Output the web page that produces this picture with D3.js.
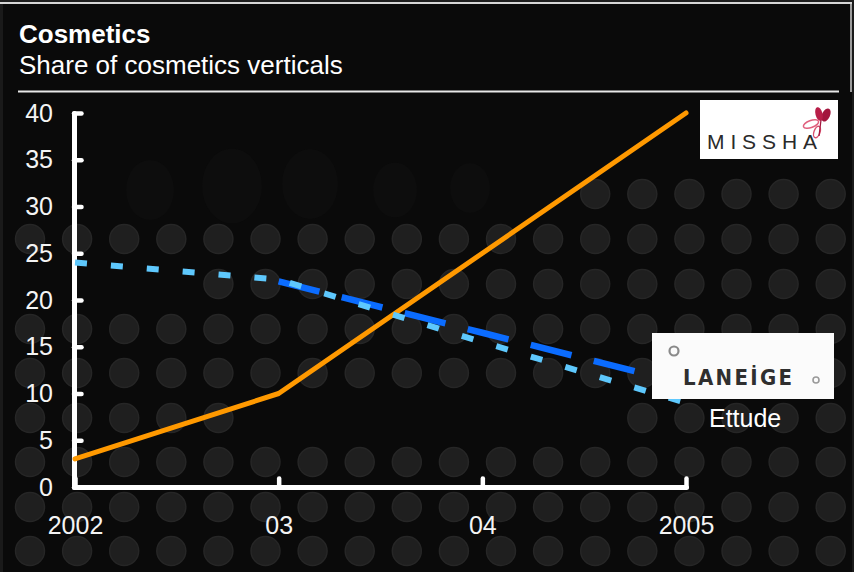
<!DOCTYPE html>
<html>
<head>
<meta charset="utf-8">
<script src="https://cdn.jsdelivr.net/npm/d3@7"></script>
<style>
  html, body { margin: 0; padding: 0; background: #0b0b0b; }
  svg { display: block; font-family: "Liberation Sans", Arial, Helvetica, sans-serif; }
</style>
</head>
<body>
<svg id="chart" width="854" height="572"></svg>
<script>
// Market share of cosmetics verticals, 2002-2005 (%)
const years = ["2002", "2003", "2004", "2005"];
const yearLabels = ["2002", "03", "04", "2005"];
const missha = [3, 10, 25, 40];
const laneige = [null, 22, 16.5, 11];
const ettude = [24, 22.2, 15.5, 9];
const yTicks = [0, 5, 10, 15, 20, 25, 30, 35, 40];

const title = "Cosmetics";
const subtitle = "Share of cosmetics verticals";

const W = 854, H = 572;
const svg = d3.select("#chart");

// ---- backdrop: dark panel with a grid of soft grey discs ----
svg.append("rect").attr("width", W).attr("height", H).attr("fill", "#0a0a0a");
svg.append("rect").attr("x", 0).attr("y", 0).attr("width", 3).attr("height", H).attr("fill", "#1a1a1a");
svg.append("rect").attr("x", 852).attr("y", 0).attr("width", 2).attr("height", H).attr("fill", "#1a1a1a");
svg.append("rect").attr("x", 0).attr("y", 0).attr("width", W).attr("height", 2).attr("fill", "#1e1e1e");

const dotRows = [194, 239, 284, 329, 373, 418, 462, 507, 551];
const dotCol = k => 30 + 47.1 * k;
// which columns are lit in each row
const rowLit = [
  k => k >= 12,
  k => true,
  k => k >= 4,
  k => true,
  k => true,
  k => k <= 4 || k >= 13,
  k => true,
  k => true,
  k => true
];
const dots = [];
dotRows.forEach((y, r) => {
  for (let k = 0; k < 18; k++) if (rowLit[r](k)) dots.push({ x: dotCol(k), y });
});
svg.append("g").selectAll("circle").data(dots).join("circle")
  .attr("cx", d => d.x).attr("cy", d => d.y).attr("r", 14.5)
  .attr("fill", "#1f1f1f").attr("stroke", "#262626").attr("stroke-width", 1.5);

// faint shapes in the upper band
const faint = [[150, 190, 24], [232, 186, 30], [310, 184, 28], [395, 190, 22], [470, 188, 20]];
svg.append("g").selectAll("ellipse").data(faint).join("ellipse")
  .attr("cx", d => d[0]).attr("cy", d => d[1]).attr("rx", d => d[2]).attr("ry", d => d[2] * 1.25)
  .attr("fill", "#0d0d0d");

// frame lines
svg.append("line").attr("x1", 0).attr("x2", 852).attr("y1", 3).attr("y2", 3)
  .attr("stroke", "#d6d6d6").attr("stroke-width", 2);
svg.append("line").attr("x1", 851).attr("x2", 851).attr("y1", 3).attr("y2", 92)
  .attr("stroke", "#cfcfcf").attr("stroke-width", 1.5);

// ---- header ----
svg.append("text").attr("x", 19).attr("y", 42.5).text(title)
  .attr("fill", "#fff").attr("font-size", 26).attr("font-weight", "bold");
svg.append("text").attr("x", 19).attr("y", 74).text(subtitle)
  .attr("fill", "#fff").attr("font-size", 26);
svg.append("line").attr("x1", 18).attr("x2", 839).attr("y1", 91.5).attr("y2", 91.5)
  .attr("stroke", "#e8e8e8").attr("stroke-width", 2);

// ---- scales ----
const x = d3.scalePoint().domain(years).range([75, 686]).padding(0);
const y = d3.scaleLinear().domain([0, 40]).range([487, 113]);

// ---- axes ----
const yAxis = d3.axisLeft(y).tickValues(yTicks).tickSize(-7.5).tickSizeOuter(0).tickPadding(21);
const xAxis = d3.axisBottom(x).tickFormat((d, i) => yearLabels[i]).tickSize(-8.5).tickSizeOuter(0).tickPadding(29);

function styleAxis(g) {
  g.select(".domain").attr("stroke", "#fff").attr("stroke-width", 5)
    .attr("stroke-linecap", "round").attr("stroke-linejoin", "round");
  g.selectAll(".tick line").attr("stroke", "#fff").attr("stroke-width", 4.5)
    .attr("stroke-linecap", "round");
  g.selectAll(".tick text").attr("fill", "#f4f4f4").attr("font-size", 25)
    .attr("font-family", "'Liberation Sans', Arial, sans-serif");
}

const gx = svg.append("g").attr("transform", `translate(0,${y(0)})`).call(xAxis);
styleAxis(gx);
const gy = svg.append("g").attr("transform", `translate(${x("2002") - 1},0)`).call(yAxis);
styleAxis(gy);

// ---- series ----
const line = d3.line()
  .defined(d => d.v != null)
  .x(d => x(d.year))
  .y(d => y(d.v));
const toPts = vals => years.map((year, i) => ({ year, v: vals[i] }));

svg.append("path").datum(toPts(missha)).attr("d", line)
  .attr("fill", "none").attr("stroke", "#ff9900").attr("stroke-width", 5)
  .attr("stroke-linecap", "round").attr("stroke-linejoin", "round");

svg.append("path").datum(toPts(laneige)).attr("d", line)
  .attr("fill", "none").attr("stroke", "#0b6cff").attr("stroke-width", 6.5)
  .attr("stroke-dasharray", "42,23");

svg.append("path").datum(toPts(ettude)).attr("d", line)
  .attr("fill", "none").attr("stroke", "#5ec8fd").attr("stroke-width", 6)
  .attr("stroke-dasharray", "12,24");

// ---- brand labels ----
// MISSHA badge
const mb = svg.append("g");
mb.append("rect").attr("x", 700).attr("y", 100).attr("width", 138).attr("height", 59).attr("fill", "#fff");
mb.append("text").attr("x", 707).attr("y", 148.5).text("MISSHA")
  .attr("fill", "#2a2a2a").attr("font-size", 21)
  .attr("font-family", "'Liberation Sans', Arial, sans-serif")
  .attr("textLength", 110).attr("lengthAdjust", "spacing");
// blossom mark
mb.append("ellipse").attr("cx", 826).attr("cy", 115).attr("rx", 4).attr("ry", 7)
  .attr("transform", "rotate(25 826 115)").attr("fill", "#a3153d");
mb.append("ellipse").attr("cx", 819).attr("cy", 114).attr("rx", 3.5).attr("ry", 7)
  .attr("transform", "rotate(-15 819 114)").attr("fill", "#b81e48");
mb.append("ellipse").attr("cx", 811).attr("cy", 124).attr("rx", 8).attr("ry", 3.5)
  .attr("transform", "rotate(-20 811 124)").attr("fill", "none").attr("stroke", "#e0607e").attr("stroke-width", 1.5);
mb.append("ellipse").attr("cx", 817).attr("cy", 132).attr("rx", 3).attr("ry", 6)
  .attr("transform", "rotate(20 817 132)").attr("fill", "none").attr("stroke", "#d9506f").attr("stroke-width", 1.4);
mb.append("path").attr("d", "M821,120 L819,136").attr("stroke", "#a3153d").attr("stroke-width", 1.3);

// LANEIGE badge
const lb = svg.append("g");
lb.append("rect").attr("x", 652).attr("y", 333).attr("width", 182).attr("height", 66).attr("fill", "#fbfbfb");
lb.append("circle").attr("cx", 674).attr("cy", 351).attr("r", 4.5)
  .attr("fill", "none").attr("stroke", "#8a8a8a").attr("stroke-width", 2.2);
lb.append("circle").attr("cx", 816).attr("cy", 380).attr("r", 3)
  .attr("fill", "none").attr("stroke", "#9a9a9a").attr("stroke-width", 1.6);
lb.append("text").attr("x", 683).attr("y", 385).text("LANEİGE")
  .attr("fill", "#2f2f2f").attr("font-size", 22).attr("font-weight", "bold")
  .attr("font-family", "'DejaVu Sans Condensed', 'DejaVu Sans', sans-serif")
  .attr("textLength", 109).attr("lengthAdjust", "spacing");

// series label
svg.append("text").attr("x", 709).attr("y", 427).text("Ettude")
  .attr("fill", "#fff").attr("font-size", 25);
</script>
</body>
</html>
